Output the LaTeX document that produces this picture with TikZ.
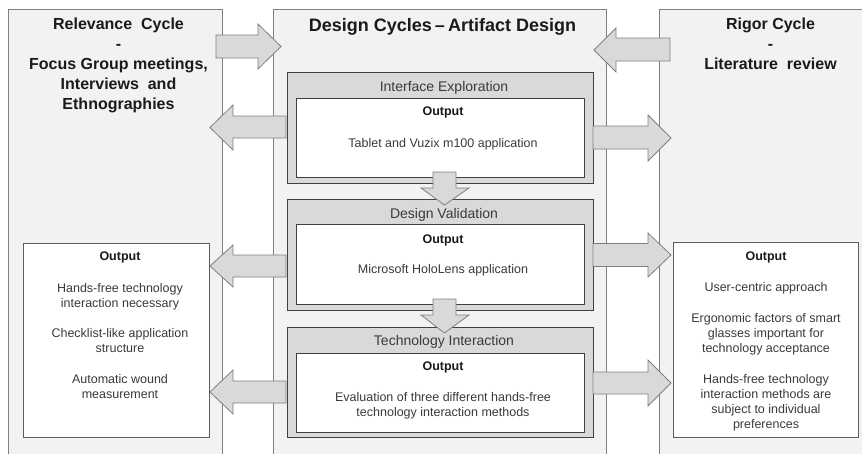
\documentclass[tikz,border=0pt]{standalone}
\usepackage{fontspec}
\setmainfont{Liberation Sans}
\definecolor{panelfill}{HTML}{F2F2F2}
\definecolor{panelline}{HTML}{7F7F7F}
\definecolor{stepfill}{HTML}{D9D9D9}
\definecolor{stepline}{HTML}{404040}
\definecolor{arrowfill}{HTML}{D9D9D9}
\definecolor{arrowline}{HTML}{7F7F7F}
\definecolor{bodytext}{HTML}{3A3A3A}
\definecolor{titletext}{HTML}{1A1A1A}
\tikzset{
  box/.style={inner sep=0pt, outer sep=0pt, anchor=north west},
  panel/.style={box, draw=panelline, fill=panelfill, line width=0.8pt},
  stepbox/.style={box, draw=stepline, fill=stepfill, line width=0.85pt},
  outbox/.style={box, draw=stepline, fill=white, line width=0.8pt},
  sidebox/.style={box, draw=stepline!85, fill=white, line width=0.8pt},
  blockarrow/.style={draw=arrowline, fill=arrowfill, line width=0.8pt, line join=miter},
  txt/.style={anchor=base, inner sep=0pt, outer sep=0pt},
  cycletitle/.style={txt, font=\bfseries\fontsize{16}{20}\selectfont, text=titletext},
  maintitle/.style={txt, font=\bfseries\fontsize{18}{22}\selectfont, text=titletext},
  steplabel/.style={txt, font=\fontsize{14}{17}\selectfont, text=bodytext},
  outhead/.style={txt, font=\bfseries\fontsize{12.5}{15}\selectfont, text=titletext},
  body/.style={txt, font=\fontsize{12.5}{15}\selectfont, text=bodytext},
}
\begin{document}
\begin{tikzpicture}[x=1pt, y=-1pt]
\path[use as bounding box] (0,0) rectangle (862,453);
\clip (0,0) rectangle (862,453);

% the three cycle columns
\node[panel, minimum width=214pt, minimum height=460pt] (relevance) at (8,9) {};
\node[panel, minimum width=333pt, minimum height=460pt] (design) at (273,9) {};
\node[panel, minimum width=216pt, minimum height=460pt] (rigor) at (659,9) {};

% column titles
\node[cycletitle] (rel1) at (118.5,29) {Relevance\ \ Cycle};
\node[cycletitle] (rel2) at (118.5,49) {-};
\node[cycletitle] (rel3) at (118.5,69) {Focus\ Group\ meetings,};
\node[cycletitle] (rel4) at (118.5,89) {Interviews\ \ and};
\node[cycletitle] (rel5) at (118.5,109) {Ethnographies};
\node[maintitle] (des1) at (442.5,31) {Design Cycles\,–\,Artifact Design};
\node[cycletitle] (rig1) at (770.5,29) {Rigor Cycle};
\node[cycletitle] (rig2) at (770.5,49) {-};
\node[cycletitle] (rig3) at (770.5,69) {Literature\ \ review};

% inputs from the relevance and rigor cycles
\draw[blockarrow] (216,35) -- (258,35) -- (258,24) -- (281,46.5) -- (258,69) -- (258,58) -- (216,58) -- cycle;
\draw[blockarrow] (670,38) -- (616,38) -- (616,28) -- (594,50) -- (616,72) -- (616,61) -- (670,61) -- cycle;

% design steps
\node[stepbox, minimum width=306pt, minimum height=111pt] (explore) at (287,72) {};
\node[outbox, minimum width=288pt, minimum height=79pt] (exploreout) at (296,98) {};
\node[stepbox, minimum width=306pt, minimum height=111pt] (validate) at (287,199) {};
\node[outbox, minimum width=288pt, minimum height=80pt] (validateout) at (296,224) {};
\node[stepbox, minimum width=306pt, minimum height=110pt] (interact) at (287,327) {};
\node[outbox, minimum width=288pt, minimum height=79pt] (interactout) at (296,353) {};

% side outputs
\node[sidebox, minimum width=186pt, minimum height=194pt] (relout) at (23,243) {};
\node[sidebox, minimum width=185pt, minimum height=195pt] (rigout) at (673,242) {};

% arrows from the design steps to the side outputs
\draw[blockarrow] (286,116) -- (233,116) -- (233,105) -- (210,127.5) -- (233,150) -- (233,138) -- (286,138) -- cycle;
\draw[blockarrow] (593,126) -- (648,126) -- (648,115) -- (671,138) -- (648,161) -- (648,149) -- (593,149) -- cycle;
\draw[blockarrow] (286,255) -- (233,255) -- (233,245) -- (210,266) -- (233,287) -- (233,277) -- (286,277) -- cycle;
\draw[blockarrow] (593,243.5) -- (648,243.5) -- (648,233) -- (671,255) -- (648,277) -- (648,266.5) -- (593,266.5) -- cycle;
\draw[blockarrow] (286,381) -- (233,381) -- (233,370) -- (210,392) -- (233,414) -- (233,403) -- (286,403) -- cycle;
\draw[blockarrow] (593,372) -- (648,372) -- (648,360) -- (671,383) -- (648,406) -- (648,394) -- (593,394) -- cycle;

% arrows between the design steps
\draw[blockarrow] (433,172) -- (456,172) -- (456,188) -- (469,188) -- (444.5,205) -- (421,188) -- (433,188) -- cycle;
\draw[blockarrow] (433,299) -- (456,299) -- (456,315) -- (469,315) -- (444.5,333) -- (421,315) -- (433,315) -- cycle;

% step labels and their outputs
\node[steplabel] (explorelbl) at (444,91) {Interface Exploration};
\node[outhead] (explorehd) at (443,115) {Output};
\node[body] (exploret1) at (443,147) {Tablet and Vuzix m100 application};

\node[steplabel] (validatelbl) at (444,218) {Design Validation};
\node[outhead] (validatehd) at (443,243) {Output};
\node[body] (validatet1) at (443,273) {Microsoft HoloLens application};

\node[steplabel] (interactlbl) at (444,345) {Technology Interaction};
\node[outhead] (interacthd) at (443,370) {Output};
\node[body] (interactt1) at (443,401) {Evaluation of three different hands-free};
\node[body] (interactt2) at (443,416) {technology interaction methods};

% relevance cycle output
\node[outhead] (relhd) at (120,260) {Output};
\node[body] (relt1) at (120,292) {Hands-free\ technology};
\node[body] (relt2) at (120,307) {interaction necessary};
\node[body] (relt3) at (120,337) {Checklist-like application};
\node[body] (relt4) at (120,352) {structure};
\node[body] (relt5) at (120,383) {Automatic wound};
\node[body] (relt6) at (120,398) {measurement};

% rigor cycle output
\node[outhead] (righd) at (766,260) {Output};
\node[body] (rigt1) at (766,291) {User-centric approach};
\node[body] (rigt2) at (766,322) {Ergonomic factors of smart};
\node[body] (rigt3) at (766,337) {glasses important for};
\node[body] (rigt4) at (766,352) {technology acceptance};
\node[body] (rigt5) at (766,383) {Hands-free\ technology};
\node[body] (rigt6) at (766,398) {interaction methods are};
\node[body] (rigt7) at (766,413) {subject to individual};
\node[body] (rigt8) at (766,428) {preferences};
\end{tikzpicture}
\end{document}
